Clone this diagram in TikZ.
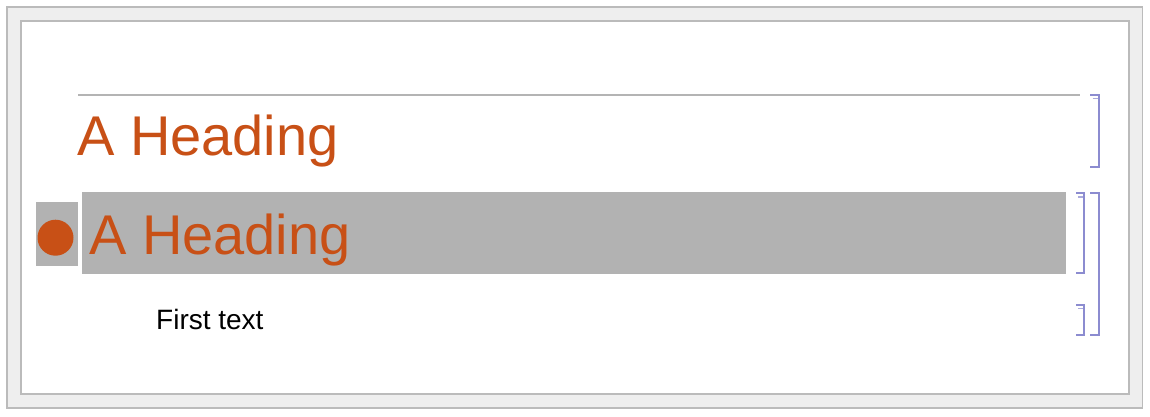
\documentclass[tikz,border=0pt]{standalone}
\usepackage{fontspec}
\setmainfont{Liberation Sans}
\definecolor{framegray}{RGB}{187,187,187}
\definecolor{framefill}{RGB}{238,238,238}
\definecolor{rulegray}{RGB}{180,180,180}
\definecolor{hlgray}{RGB}{178,178,178}
\definecolor{headorange}{RGB}{200,80,22}
\definecolor{brackblue}{RGB}{140,140,208}
\definecolor{brackpale}{RGB}{170,170,220}
\tikzset{
  frameline/.style={draw=framegray, line width=1.6pt},
  headtext/.style={anchor=base west, inner sep=0pt, text=headorange, font=\fontsize{56}{60}\selectfont},
  bodytext/.style={anchor=base west, inner sep=0pt, text=black, font=\fontsize{28}{30}\selectfont},
  brack/.style={draw=brackblue, line width=1.8pt},
  subtick/.style={draw=brackpale, line width=1.5pt},
}
\begin{document}
\begin{tikzpicture}[x=1pt,y=-1pt]
\useasboundingbox (0,0) rectangle (1150,416);
\fill[white] (0,0) rectangle (1150,416);
\filldraw[frameline, fill=framefill] (6.7,6.7) rectangle (1142.5,408);
\filldraw[frameline, fill=white] (20.7,20.7) rectangle (1128.7,394);
% heading 1
\coordinate (r1a) at (78,95);
\coordinate (r1b) at (1080,95);
\draw[draw=rulegray, line width=1.8pt] (r1a) -- (r1b);
\node[headtext] (h1) at (77,155) {A Heading};
% heading 2 highlight
\fill[hlgray] (82,192.3) rectangle (1066,273.5);
\fill[hlgray] (36,202) rectangle (78,265.5);
\node[circle, fill=headorange, minimum size=36pt, inner sep=0pt] (bullet) at (55.5,237.7) {};
\node[headtext] (h2) at (89,254) {A Heading};
\node[bodytext] (t1) at (156,329) {First text};
% brackets
\draw[brack] (1090,94.7) -- (1098.7,94.7) -- (1098.7,167) -- (1090,167);
\draw[subtick] (1092.7,98.7) -- (1097.5,98.7);
\draw[brack] (1076,193) -- (1084.3,193) -- (1084.3,272.7) -- (1076,272.7);
\draw[subtick] (1078,196.8) -- (1083.2,196.8);
\draw[brack] (1090,193) -- (1098.7,193) -- (1098.7,335) -- (1090,335);
\draw[brack] (1076,304.7) -- (1084.3,304.7) -- (1084.3,335) -- (1076,335);
\draw[subtick] (1078,308.5) -- (1083.2,308.5);
\end{tikzpicture}
\end{document}
